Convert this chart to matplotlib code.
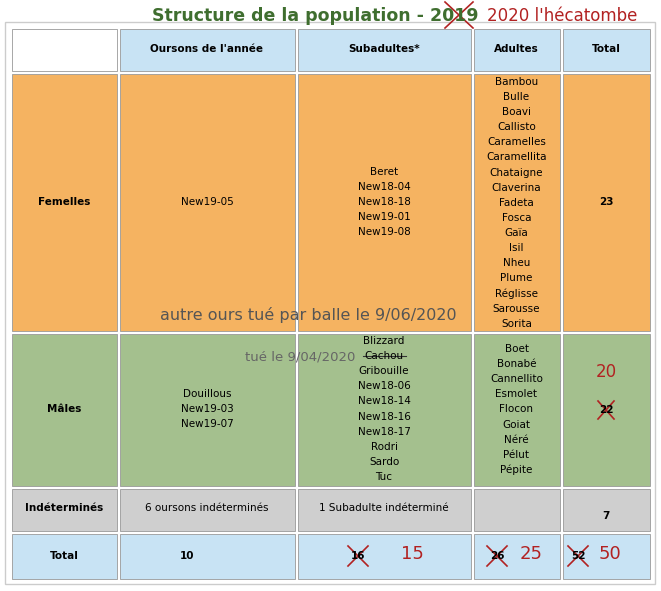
import matplotlib
matplotlib.use("Agg")
import matplotlib.pyplot as plt
from matplotlib.patches import Rectangle

col_headers = ["Oursons de l'année", "Subadultes*", "Adultes", "Total"]
row_headers = ["Femelles", "Mâles", "Indéterminés", "Total"]
fem_oursons = ["New19-05"]
fem_sub = ["Beret", "New18-04", "New18-18", "New19-01", "New19-08"]
fem_adults = ["Bambou", "Bulle", "Boavi", "Callisto", "Caramelles", "Caramellita",
              "Chataigne", "Claverina", "Fadeta", "Fosca", "Gaïa", "Isil", "Nheu",
              "Plume", "Réglisse", "Sarousse", "Sorita"]
fem_total = "23"
male_oursons = ["Douillous", "New19-03", "New19-07"]
male_sub = ["Blizzard", "Cachou", "Gribouille", "New18-06", "New18-14", "New18-16",
            "New18-17", "Rodri", "Sardo", "Tuc"]
male_adults = ["Boet", "Bonabé", "Cannellito", "Esmolet", "Flocon", "Goiat", "Néré",
               "Pélut", "Pépite"]
male_total_old, male_total_new = "22", "20"
ind_cells = ["6 oursons indéterminés", "1 Subadulte indéterminé", "", "7"]
tot_old = ["10", "16", "26", "52"]
tot_new = ["", "15", "25", "50"]

fig = plt.figure(figsize=(6.61, 5.91), dpi=100)
ax = fig.add_axes([0, 0, 1, 1])
ax.set_xlim(0, 661); ax.set_ylim(591, 0); ax.axis("off")

ax.add_patch(Rectangle((5, 22), 650, 562, fc="white", ec="#cccccc", lw=1))
xs = [10, 118, 296, 472, 561, 651]
ys = [27, 72, 332, 487, 532, 580]
fills = ["#F5B361", "#A4C08E", "#CFCFCF", "#C8E3F4"]
red = "#B22222"
gap = 1.5
for r in range(5):
    for c in range(5):
        if r == 0:
            fc = "white" if c == 0 else "#C8E3F4"
        else:
            fc = fills[r - 1]
        ax.add_patch(Rectangle((xs[c] + gap, ys[r] + gap), xs[c+1] - xs[c] - 2*gap,
                               ys[r+1] - ys[r] - 2*gap, fc=fc, ec="#999999", lw=0.6))

def cx(c): return (xs[c] + xs[c+1]) / 2
fs = 7.5
for c, h in enumerate(col_headers):
    ax.text(cx(c+1), 49, h, ha="center", va="center", fontsize=fs, weight="bold")
ypos = [202, 409, 508, 556]
for r, h in enumerate(row_headers):
    ax.text(cx(0), ypos[r], h, ha="center", va="center", fontsize=fs, weight="bold")

def col_list(c, names, y0, step=15.1):
    for i, n in enumerate(names):
        ax.text(cx(c), y0 + i*step, n, ha="center", va="center", fontsize=fs)

col_list(1, fem_oursons, 202)
col_list(2, fem_sub, 172)
col_list(3, fem_adults, 82)
ax.text(cx(4), 202, fem_total, ha="center", va="center", fontsize=fs, weight="bold")
col_list(1, male_oursons, 394)
col_list(2, male_sub, 341)
col_list(3, male_adults, 349)
ax.text(cx(4), 372, male_total_new, ha="center", va="center", fontsize=12, color=red)
ax.text(cx(4), 410, male_total_old, ha="center", va="center", fontsize=fs, weight="bold")
ax.plot([363, 406], [356, 356], color="#333333", lw=0.8)

def cross(x, y, w=10, h=9):
    ax.plot([x-w, x+w], [y-h, y+h], color=red, lw=1.2)
    ax.plot([x-w, x+w], [y+h, y-h], color=red, lw=1.2)
cross(606, 410, 8, 9)

ax.text(cx(1), 508, ind_cells[0], ha="center", va="center", fontsize=fs)
ax.text(cx(2), 508, ind_cells[1], ha="center", va="center", fontsize=fs)
ax.text(cx(4), 516, ind_cells[3], ha="center", va="center", fontsize=fs, weight="bold")

old_x = [187, 358, 497, 578]
new_x = [None, 412, 531, 610]
for i in range(4):
    ax.text(old_x[i], 556, tot_old[i], ha="center", va="center", fontsize=fs, weight="bold")
    if tot_new[i]:
        ax.text(new_x[i], 554, tot_new[i], ha="center", va="center", fontsize=13, color=red)
        cross(old_x[i], 556, 10, 10)

ax.text(308, 315, "autre ours tué par balle le 9/06/2020", ha="center", va="center",
        fontsize=11.5, color="#555555")
ax.text(300, 357, "tué le 9/04/2020", ha="center", va="center", fontsize=9.5, color="#666666")

ax.text(479, 16, "Structure de la population - 2019", ha="right", va="center",
        fontsize=12.5, weight="bold", color="#3F6E2F")
cross(459, 15, 14, 13)
ax.text(487, 16, "2020 l'hécatombe", ha="left", va="center", fontsize=12, color=red)

fig.savefig("out.png", dpi=100)
